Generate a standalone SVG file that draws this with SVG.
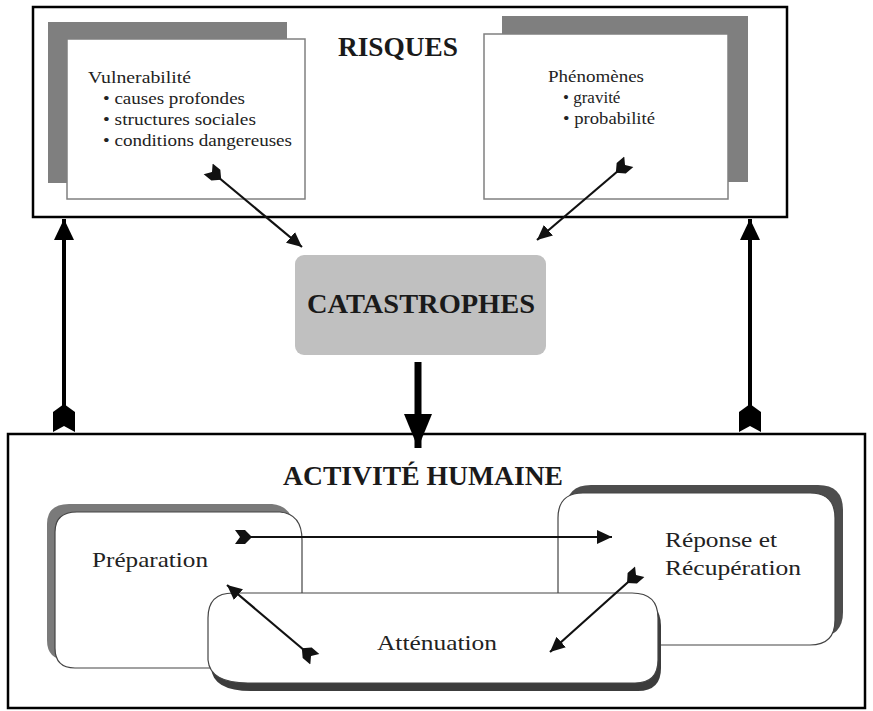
<svg xmlns="http://www.w3.org/2000/svg" width="873" height="711" viewBox="0 0 873 711">
<style>
.frame{fill:#fff;stroke:#000;stroke-width:2.5}
.inner{fill:#fff;stroke:#808080;stroke-width:1.5}
.shape{fill:#fff;stroke:#444;stroke-width:1.2}
.t{font-family:"Liberation Serif","Times New Roman",serif;fill:#222}
.title{font-weight:bold;font-size:27px;fill:#1a1a1a}
.small{font-size:17px}
.mid{font-size:21px}
.thin{stroke:#111;stroke-width:2.2;fill:none}
.thick{stroke:#000;stroke-width:4;fill:none}
.heavy{stroke:#000;stroke-width:7;fill:none}
</style>
<defs>
<marker id="hS" markerUnits="userSpaceOnUse" markerWidth="16" markerHeight="14" refX="15" refY="7" orient="auto"><path d="M0,0 L15,7 L0,14 Z" fill="#111"/></marker>
<marker id="tS" markerUnits="userSpaceOnUse" markerWidth="18" markerHeight="16" refX="5" refY="8" orient="auto"><path d="M0,1 L10,1 L17,8 L10,15 L0,15 L5,8 Z" fill="#111"/></marker>
<marker id="hM" markerUnits="userSpaceOnUse" markerWidth="22" markerHeight="20" refX="21" refY="10" orient="auto"><path d="M0,0 L21,10 L0,20 Z" fill="#000"/></marker>
<marker id="tM" markerUnits="userSpaceOnUse" markerWidth="29" markerHeight="22" refX="6" refY="11" orient="auto"><path d="M0,0 L20,0 L28,11 L20,22 L0,22 L6,11 Z" fill="#000"/></marker>
<marker id="hL" markerUnits="userSpaceOnUse" markerWidth="36" markerHeight="28" refX="34" refY="14" orient="auto"><path d="M0,0 L34,14 L0,28 Z" fill="#000"/></marker>
</defs>
<rect width="873" height="711" fill="#fff"/>

<g id="risques">
<rect class="frame" x="33" y="7" width="754" height="210"/>
<text class="t title" x="338" y="56" textLength="120" lengthAdjust="spacingAndGlyphs">RISQUES</text>
</g>
<g id="vulnerabilite">
<rect x="48" y="22" width="239" height="161" fill="#7f7f7f"/>
<rect class="inner" x="67" y="39" width="238" height="160"/>
<text class="t small" x="88" y="83" textLength="103" lengthAdjust="spacingAndGlyphs">Vulnerabilité</text>
<text class="t small" x="103" y="104" textLength="142" lengthAdjust="spacingAndGlyphs">• causes profondes</text>
<text class="t small" x="103" y="125" textLength="153" lengthAdjust="spacingAndGlyphs">• structures sociales</text>
<text class="t small" x="103" y="146" textLength="189" lengthAdjust="spacingAndGlyphs">• conditions dangereuses</text>
</g>
<g id="phenomenes">
<rect x="502" y="16" width="246" height="166" fill="#7f7f7f"/>
<rect class="inner" x="484" y="34" width="244" height="165"/>
<text class="t small" x="548" y="82" textLength="96" lengthAdjust="spacingAndGlyphs">Phénomènes</text>
<text class="t small" x="563" y="103">• gravité</text>
<text class="t small" x="563" y="124" textLength="92" lengthAdjust="spacingAndGlyphs">• probabilité</text>
</g>
<g id="catastrophes">
<rect x="295" y="255" width="251" height="100" rx="9" fill="#c0c0c0"/>
<text class="t title" x="307" y="313" textLength="228" lengthAdjust="spacingAndGlyphs">CATASTROPHES</text>
</g>
<g id="activite">
<rect class="frame" x="8" y="434" width="857" height="274"/>
<text class="t title" x="283" y="485" textLength="280" lengthAdjust="spacingAndGlyphs">ACTIVITÉ HUMAINE</text>
</g>
<g id="preparation">
<path transform="translate(-8,-8)" d="M77,512 L280,512 Q302,514 302,540 L302,668 L75,668 Q55,668 55,648 L55,532 Q55,512 77,512 Z" fill="#7a7a7a"/>
<path class="shape" d="M77,512 L280,512 Q302,514 302,540 L302,668 L75,668 Q55,668 55,648 L55,532 Q55,512 77,512 Z"/>
<text class="t mid" x="92" y="567" textLength="116" lengthAdjust="spacingAndGlyphs">Préparation</text>
</g>
<g id="reponse">
<path transform="translate(8,-8)" d="M583,493 L810,493 Q835,493 835,518 L835,620 Q835,645 810,645 L558,645 L558,518 Q558,493 583,493 Z" fill="#4d4d4d"/>
<path class="shape" d="M583,493 L810,493 Q835,493 835,518 L835,620 Q835,645 810,645 L558,645 L558,518 Q558,493 583,493 Z"/>
<text class="t mid" x="665" y="547" textLength="112" lengthAdjust="spacingAndGlyphs">Réponse et</text>
<text class="t mid" x="665" y="575" textLength="136" lengthAdjust="spacingAndGlyphs">Récupération</text>
</g>
<g id="attenuation">
<path transform="translate(3,8)" d="M233,593 L632,593 Q658,593 658,618 L658,660 Q658,683 635,683 L248,683 Q210,683 208,660 L208,618 Q208,593 233,593 Z" fill="#3c3c3c"/>
<path class="shape" d="M233,593 L632,593 Q658,593 658,618 L658,660 Q658,683 635,683 L248,683 Q210,683 208,660 L208,618 Q208,593 233,593 Z"/>
<text class="t mid" x="377" y="650" textLength="120" lengthAdjust="spacingAndGlyphs">Atténuation</text>
</g>

<g id="connectors">
<line class="thin" x1="212" y1="172" x2="302" y2="247" marker-start="url(#tS)" marker-end="url(#hS)"/>
<line class="thin" x1="625" y1="165" x2="537" y2="240" marker-start="url(#tS)" marker-end="url(#hS)"/>
<line class="heavy" x1="418" y1="362" x2="418" y2="448" marker-end="url(#hL)"/>
<line class="thick" x1="64" y1="426" x2="64" y2="219" marker-start="url(#tM)" marker-end="url(#hM)"/>
<line class="thick" x1="750" y1="426" x2="750" y2="219" marker-start="url(#tM)" marker-end="url(#hM)"/>
<line class="thin" x1="240" y1="537" x2="612" y2="537" marker-start="url(#tS)" marker-end="url(#hS)"/>
<line class="thin" x1="311" y1="656" x2="227" y2="585" marker-start="url(#tS)" marker-end="url(#hS)"/>
<line class="thin" x1="636" y1="575" x2="550" y2="652" marker-start="url(#tS)" marker-end="url(#hS)"/>
</g>
</svg>
